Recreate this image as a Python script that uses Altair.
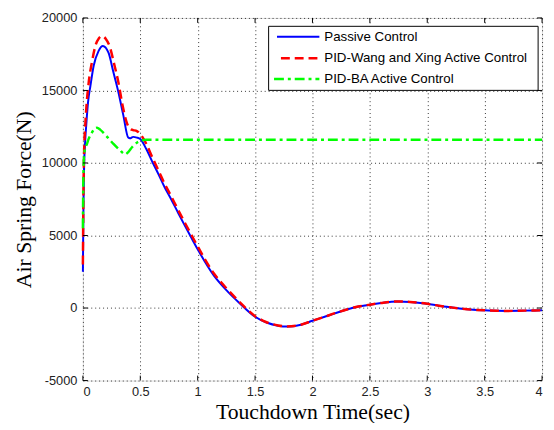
import altair as alt
import pandas as pd

# ---------------- data ----------------
passive_t = [0, 0.005, 0.01, 0.02, 0.03, 0.045, 0.066, 0.094, 0.137, 0.174, 0.223, 0.266,
             0.309, 0.352, 0.395, 0.41, 0.438, 0.47, 0.5, 0.55, 0.61, 0.66, 0.71, 0.77, 0.824,
             0.88, 0.938, 1.0, 1.14, 1.26, 1.37, 1.5, 1.6, 1.7, 1.78, 1.9, 2.0, 2.1, 2.2, 2.3,
             2.4, 2.5, 2.6, 2.74, 2.85, 3.0, 3.1, 3.2, 3.3, 3.4, 3.5, 3.6, 3.7, 3.8, 3.9, 4.0]
passive_f = [2500, 7000, 9500, 11500, 12700, 14200, 15340, 16700, 17730, 18070, 17600, 16250,
             14900, 13300, 11750, 11700, 11800, 11750, 11650, 11000, 10000, 9200, 8360, 7480, 6650,
             5800, 4950, 4050, 2250, 1150, 300, -600, -1000, -1220, -1280, -1150, -880, -620, -350, -100,
             100, 230, 350, 450, 420, 290, 160, 50, -50, -120, -160, -190, -200, -190, -170, -160]

pid_t = [0, 0.005, 0.01, 0.02, 0.03, 0.05, 0.08, 0.11, 0.14, 0.166, 0.2, 0.237, 0.27,
         0.309, 0.345, 0.38, 0.41, 0.438, 0.47, 0.495, 0.55, 0.61, 0.66, 0.71, 0.77, 0.824,
         0.88, 0.938, 1.0, 1.14, 1.26, 1.37, 1.5, 1.6, 1.7, 1.78, 1.9, 2.0, 2.1, 2.2, 2.3,
         2.4, 2.5, 2.6, 2.74, 2.85, 3.0, 3.1, 3.2, 3.3, 3.4, 3.5, 3.6, 3.7, 3.8, 3.9, 4.0]
pid_f = [3000, 8000, 10500, 12500, 13800, 15500, 17000, 18100, 18600, 18750, 18550, 17950, 16900,
         15570, 14000, 12840, 12350, 12270, 12200, 12040, 11350, 10300, 9450, 8600, 7700, 6850,
         6000, 5150, 4250, 2400, 1280, 380, -560, -980, -1200, -1270, -1150, -880, -620, -350, -100,
         100, 230, 350, 450, 420, 290, 160, 50, -50, -120, -160, -190, -200, -190, -170, -160]

ba_t = [0, 0.004, 0.01, 0.02, 0.035, 0.05, 0.08, 0.1, 0.123, 0.15, 0.2, 0.266, 0.32, 0.37,
        0.395, 0.43, 0.47, 0.51, 0.55, 4.0]
ba_f = [5500, 9000, 10500, 11000, 11300, 11660, 12110, 12350, 12430, 12300, 11900, 11320, 10900,
        10600, 10750, 11100, 11400, 11550, 11600, 11600]

series_names = ["Passive Control", "PID-Wang and Xing Active Control", "PID-BA Active Control"]
series_colors = ["#0000FF", "#FF0000", "#00FF00"]

x_ticks = [0, 0.5, 1, 1.5, 2, 2.5, 3, 3.5, 4]
y_ticks = [-5000, 0, 5000, 10000, 15000, 20000]

W, H = 466, 368

# ---------------- chart ----------------
xs = alt.Scale(domain=[0, 4], nice=False)
ys = alt.Scale(domain=[-5000, 20000], nice=False)

x_axis = alt.Axis(values=x_ticks, labelExpr="'' + datum.value", title="Touchdown Time(sec)",
                  grid=True, gridDash=[1, 3], gridColor="#000", gridOpacity=0.8,
                  ticks=False, domain=False, labelPadding=5,
                  labelFont="Liberation Sans", labelFontSize=13, labelColor="#222",
                  titleFont="Liberation Serif", titleFontSize=22, titleFontWeight="normal",
                  titleColor="#000", titlePadding=4)
y_axis = alt.Axis(values=y_ticks, labelExpr="'' + datum.value", title="Air Spring Force(N)",
                  grid=True, gridDash=[1, 3], gridColor="#000", gridOpacity=0.8,
                  ticks=False, domain=False, labelPadding=6,
                  labelFont="Liberation Sans", labelFontSize=13, labelColor="#222",
                  titleFont="Liberation Serif", titleFontSize=22, titleFontWeight="normal",
                  titleColor="#000", titlePadding=6)

def line_layer(t, f, color, width, dash=None):
    df = pd.DataFrame({"t": t, "f": f})
    kw = dict(color=color, strokeWidth=width, interpolate="monotone")
    if dash:
        kw["strokeDash"] = dash
    return alt.Chart(df).mark_line(**kw).encode(
        x=alt.X("t:Q", scale=xs, axis=x_axis),
        y=alt.Y("f:Q", scale=ys, axis=y_axis),
    )

blue = line_layer(passive_t, passive_f, series_colors[0], 2)
red = line_layer(pid_t, pid_f, series_colors[1], 2.5, [9, 5])
green = line_layer(ba_t, ba_f, series_colors[2], 2.5, [10, 4, 3, 4])

# inward ticks on all four sides
xt = pd.DataFrame({"t": x_ticks})
yt = pd.DataFrame({"f": y_ticks})
tick_bottom = alt.Chart(xt).mark_rule(color="#000").encode(
    x=alt.X("t:Q", scale=xs), y=alt.value(H), y2=alt.value(H - 5))
tick_top = alt.Chart(xt).mark_rule(color="#000").encode(
    x=alt.X("t:Q", scale=xs), y=alt.value(0), y2=alt.value(5))
tick_left = alt.Chart(yt).mark_rule(color="#000").encode(
    y=alt.Y("f:Q", scale=ys), x=alt.value(0), x2=alt.value(5))
tick_right = alt.Chart(yt).mark_rule(color="#000").encode(
    y=alt.Y("f:Q", scale=ys), x=alt.value(W), x2=alt.value(W - 5))

# manual legend
one = pd.DataFrame({"a": [0]})
leg_box = alt.Chart(one).mark_rect(fill="white", stroke="#000", strokeWidth=1).encode(
    x=alt.value(188.5), x2=alt.value(462), y=alt.value(8.5), y2=alt.value(73.5))
leg_layers = [leg_box]
leg_y = [19, 41, 62]
leg_dash = [None, [9, 5], [10, 4, 3, 4]]
leg_x0 = [197, 201, 194]
for name, col, yy, dash, x0 in zip(series_names, series_colors, leg_y, leg_dash, leg_x0):
    kw = dict(color=col, strokeWidth=2.5 if dash else 2)
    if dash:
        kw["strokeDash"] = dash
    leg_layers.append(alt.Chart(one).mark_rule(**kw).encode(
        x=alt.value(x0), x2=alt.value(240), y=alt.value(yy)))
    leg_layers.append(alt.Chart(one).mark_text(
        align="left", baseline="middle", font="Liberation Sans", fontSize=13.5, color="#000"
    ).encode(x=alt.value(245), y=alt.value(yy), text=alt.value(name)))

chart = alt.layer(
    blue, red, green, tick_bottom, tick_top, tick_left, tick_right, *leg_layers
).properties(
    width=W, height=H,
    autosize="none",
    padding={"left": 76, "top": 7, "right": 4, "bottom": 40},
).configure_view(stroke="#000", strokeWidth=1).configure(background="white")

chart.save("out.html", embed_options={"renderer": "svg", "actions": False})
